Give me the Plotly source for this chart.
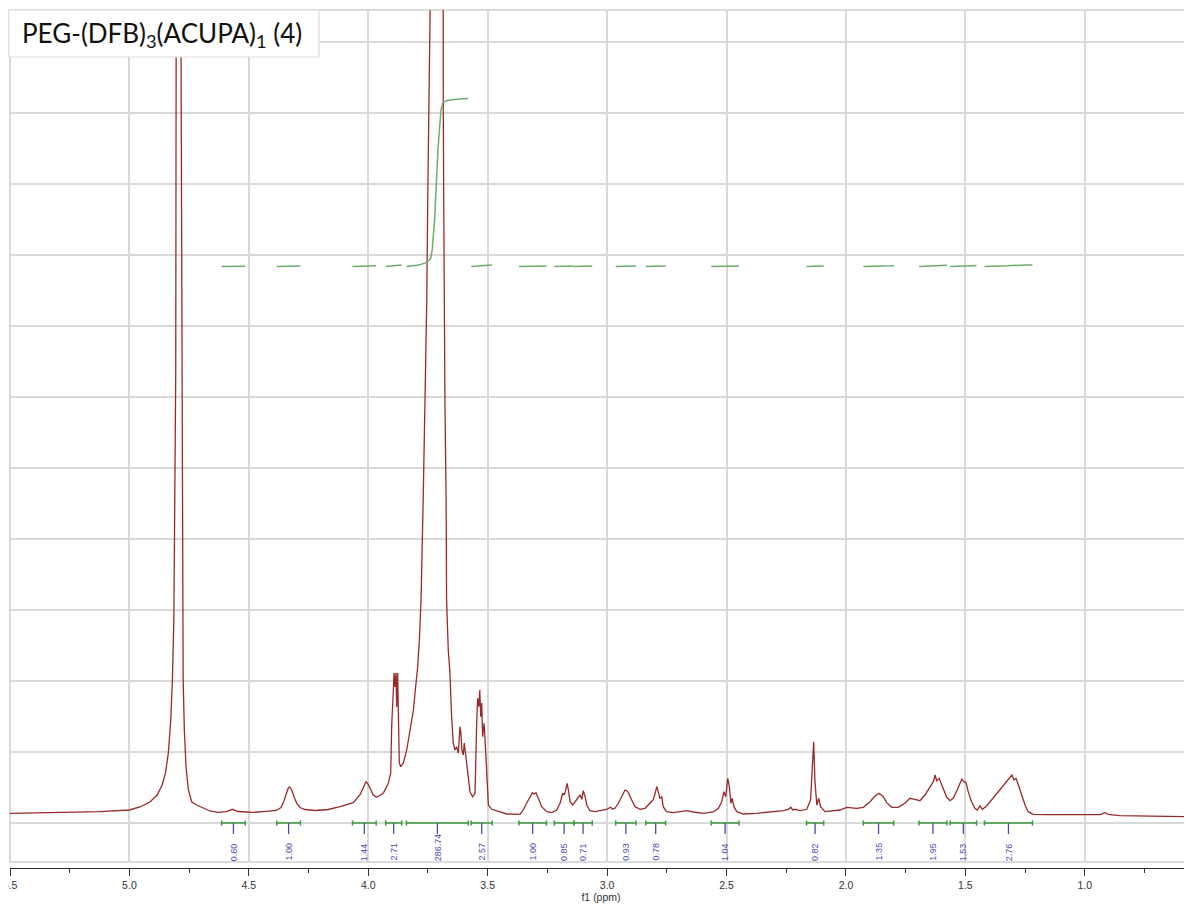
import numpy as np
import plotly.graph_objects as go

# ---------------- data ----------------
ppm = [5.500, 5.290, 5.123, 5.000, 4.956, 4.914, 4.884, 4.863, 4.849, 4.837,
       4.827, 4.820, 4.814, 4.806, 4.804, 4.802, 4.793, 4.784, 4.783, 4.780,
       4.778, 4.775, 4.770, 4.763, 4.753, 4.739, 4.718, 4.692, 4.663, 4.629,
       4.593, 4.569, 4.545, 4.509, 4.482, 4.425, 4.386, 4.365, 4.353, 4.342,
       4.334, 4.328, 4.319, 4.309, 4.298, 4.286, 4.265, 4.223, 4.168, 4.118,
       4.063, 4.035, 4.022, 4.009, 4.001, 3.993, 3.979, 3.965, 3.937, 3.916,
       3.906, 3.902, 3.899, 3.895, 3.892, 3.888, 3.884, 3.881, 3.877, 3.874,
       3.870, 3.864, 3.853, 3.839, 3.825, 3.811, 3.800, 3.793, 3.786, 3.779,
       3.770, 3.762, 3.755, 3.751, 3.746, 3.741, 3.714, 3.688, 3.686, 3.684,
       3.682, 3.679, 3.674, 3.672, 3.665, 3.658, 3.651, 3.646, 3.644, 3.637,
       3.630, 3.623, 3.616, 3.612, 3.608, 3.602, 3.598, 3.592, 3.588, 3.581,
       3.574, 3.563, 3.553, 3.546, 3.542, 3.537, 3.533, 3.529, 3.525, 3.521,
       3.515, 3.511, 3.507, 3.501, 3.497, 3.483, 3.462, 3.420, 3.365, 3.351,
       3.337, 3.323, 3.313, 3.306, 3.298, 3.288, 3.274, 3.253, 3.232, 3.211,
       3.197, 3.186, 3.180, 3.175, 3.167, 3.161, 3.155, 3.144, 3.134, 3.125,
       3.113, 3.106, 3.100, 3.092, 3.085, 3.072, 3.051, 3.030, 3.002, 2.985,
       2.977, 2.967, 2.953, 2.939, 2.925, 2.918, 2.911, 2.897, 2.883, 2.862,
       2.841, 2.828, 2.813, 2.807, 2.799, 2.792, 2.786, 2.779, 2.771, 2.765,
       2.751, 2.723, 2.695, 2.667, 2.639, 2.597, 2.555, 2.534, 2.520, 2.511,
       2.503, 2.495, 2.488, 2.482, 2.476, 2.469, 2.457, 2.430, 2.374, 2.318,
       2.262, 2.241, 2.231, 2.223, 2.213, 2.192, 2.164, 2.148, 2.141, 2.135,
       2.130, 2.122, 2.114, 2.106, 2.088, 2.053, 2.025, 1.997, 1.955, 1.927,
       1.899, 1.878, 1.862, 1.846, 1.829, 1.808, 1.781, 1.753, 1.732, 1.711,
       1.690, 1.669, 1.648, 1.634, 1.627, 1.620, 1.610, 1.602, 1.592, 1.578,
       1.564, 1.551, 1.534, 1.523, 1.515, 1.506, 1.497, 1.488, 1.474, 1.460,
       1.450, 1.439, 1.429, 1.411, 1.390, 1.369, 1.348, 1.327, 1.316, 1.305,
       1.296, 1.288, 1.278, 1.264, 1.250, 1.237, 1.216, 1.160, 1.076, 1.006,
       0.936, 0.915, 0.902, 0.853, 0.755, 0.551]

intensity = [0.7, 1.3, 2.3, 4, 7, 12, 19, 29, 41, 61,
             94, 134, 194, 441, 674, 764, 3000, 764, 674, 441,
             194, 134, 84, 47, 24, 12, 9, 6, 3, 1.7,
             2.3, 4.7, 2.5, 2, 1.7, 2.7, 3.5, 6.5, 13, 21,
             26.5, 27, 23, 16, 10, 6.5, 4.5, 3.5, 4.5, 7.3,
             11.3, 19, 26, 32.3, 30, 26, 19, 16.7, 20.7, 30.7,
             41, 87.3, 112.3, 124, 141, 127, 141, 107, 141, 104,
             51, 47.3, 51, 64, 84, 104, 131, 147, 174, 214,
             314, 414, 514, 614, 714, 804, 20000, 804, 714, 614,
             514, 414, 314, 214, 164, 141, 97.3, 81, 71, 64,
             67.3, 61, 87.3, 81, 64, 59, 71, 59, 51, 34,
             22.3, 17.3, 20.7, 90.7, 115.7, 107.3, 124, 97.3, 111, 77.3,
             90.7, 74, 51, 24, 9, 4.7, 3.3, 0, -0.3, 4,
             10.7, 17.3, 21.3, 20, 21.3, 15.7, 7.3, 2.3, 1.3, 4,
             10.7, 20.7, 19, 22.3, 30.7, 22.3, 12.3, 9, 12.3, 15.7,
             19, 14.7, 23.3, 17.3, 9, 3.3, 2.3, 3.3, 4.7, 6.7,
             4.7, 5.7, 10.7, 17.3, 24, 23.3, 21.3, 14, 7.3, 4.7,
             5.7, 9, 12.3, 14, 20.7, 27.3, 22.3, 15.7, 17, 7.3,
             2.3, 1.3, 2.3, 3.3, 2, 0.7, 2, 5.7, 12.3, 22.3,
             17.3, 35.7, 27.3, 10.7, 15.7, 7.3, 2.3, 0, 0.7, 1.7,
             3.3, 4.7, 6.7, 4, 4.7, 3.3, 4.7, 14, 44, 72.3,
             34, 9, 15.7, 7.3, 2.3, 3.3, 4, 6.7, 5.7, 6.7,
             12.3, 18, 20.7, 18, 11.3, 6.7, 6.7, 10.7, 15.7, 14.7,
             13.3, 19, 27.3, 32.3, 39, 33.3, 35.7, 30.7, 24, 16.7,
             13.3, 15.7, 24, 30.7, 34.7, 32.3, 31.3, 22.3, 12.3, 5.7,
             4, 8, 4.7, 8, 14, 20, 25.7, 32.3, 34.7, 39,
             34, 35.7, 29, 19, 9, 2.3, -0.3, -0.7, -0.7, -1,
             -0.7, 1.3, -0.3, -1.7, -2, -2.7]

# integration regions (ppm) and their integral values
int_hi = [4.614, 4.383, 4.066, 3.927, 3.840, 3.569, 3.369, 3.221, 3.139,
          2.964, 2.838, 2.564, 2.165, 1.927, 1.694, 1.564, 1.420]
int_lo = [4.515, 4.284, 3.967, 3.860, 3.581, 3.481, 3.254, 3.139, 3.062,
          2.879, 2.755, 2.448, 2.093, 1.800, 1.577, 1.453, 1.219]
int_values = ["0.60", "1.00", "1.44", "2.71", "286.74", "2.57", "1.00", "0.85", "0.71",
              "0.93", "0.78", "1.04", "0.82", "1.35", "1.95", "1.53", "2.76"]

title_text = "PEG-(DFB)<sub>3</sub>(ACUPA)<sub>1</sub> (4)"
x_title = "f1 (ppm)"

# ---------------- styling constants ----------------
SPEC_COLOR = "#982a2a"
INT_CURVE_COLOR = "#6cad6c"
INT_BAR_COLOR = "#3e9a3e"
INT_LABEL_COLOR = "#4b4bab"
GRID_COLOR = "#d9d9d9"
INT_BASE = 547.5      # level where integral curves start
INT_SCALE = 0.586     # curve rise per integral unit
BAR_LEVEL = -9
CAP = 2.6
TICK_LOW = -20
FONT = "Arial, Liberation Sans, sans-serif"

fig = go.Figure()

fig.add_trace(go.Scatter(x=ppm, y=intensity, mode="lines",
                         line=dict(color=SPEC_COLOR, width=1.3),
                         hoverinfo="skip", showlegend=False))

# integral curves: running integral of the spectrum over each region
xs_all = np.array(ppm)
ys_all = np.array(intensity)
order = np.argsort(xs_all)
xs = xs_all[order]
ys = ys_all[order]
cx, cy = [], []
for hi, lo, v in zip(int_hi, int_lo, int_values):
    grid = np.linspace(hi, lo, 400)
    py = np.interp(grid, xs, ys)
    seg = np.abs(np.diff(grid)) * (py[:-1] + py[1:]) / 2.0
    cum = np.concatenate([[0.0], np.cumsum(seg)])
    cum = cum / cum[-1]
    level = INT_BASE + float(v) * INT_SCALE * cum
    cx += list(grid) + [None]
    cy += list(level) + [None]
fig.add_trace(go.Scatter(x=cx, y=cy, mode="lines",
                         line=dict(color=INT_CURVE_COLOR, width=1.5),
                         hoverinfo="skip", showlegend=False))

# integration bars with end caps
bx, by = [], []
for hi, lo in zip(int_hi, int_lo):
    bx += [hi, lo, None, hi, hi, None, lo, lo, None]
    by += [BAR_LEVEL, BAR_LEVEL, None, BAR_LEVEL + CAP, BAR_LEVEL - CAP, None,
           BAR_LEVEL + CAP, BAR_LEVEL - CAP, None]
fig.add_trace(go.Scatter(x=bx, y=by, mode="lines",
                         line=dict(color=INT_BAR_COLOR, width=1.5),
                         hoverinfo="skip", showlegend=False))

# blue centre ticks
tx, ty = [], []
for hi, lo in zip(int_hi, int_lo):
    c = (hi + lo) / 2
    tx += [c, c, None]
    ty += [BAR_LEVEL, TICK_LOW, None]
fig.add_trace(go.Scatter(x=tx, y=ty, mode="lines",
                         line=dict(color=INT_LABEL_COLOR, width=1.3),
                         hoverinfo="skip", showlegend=False))

annotations = []
for hi, lo, v in zip(int_hi, int_lo, int_values):
    annotations.append(dict(x=(hi + lo) / 2, y=0.006, xref="x", yref="paper",
                            text=v, textangle=-90, showarrow=False,
                            xanchor="center", yanchor="bottom",
                            font=dict(family=FONT, size=9, color=INT_LABEL_COLOR)))

# title box
annotations.append(dict(x=0.0085, y=0.972, xref="paper", yref="paper",
                        text=title_text, showarrow=False,
                        xanchor="left", yanchor="middle",
                        font=dict(family="Lato, Open Sans, sans-serif",
                                  size=26, color="#111111")))

shapes = [
    dict(type="rect", xref="x domain", yref="y domain", x0=0, x1=1, y0=0, y1=1,
         line=dict(color="#cfcfcf", width=1.5), layer="below"),
    dict(type="rect", xref="paper", yref="paper", x0=-0.0012, x1=0.2614,
         y0=0.9452, y1=1.0, line=dict(color="#dddddd", width=1.2),
         fillcolor="white", layer="above"),
]

# the page body adds an 8 px offset, so the figure is 8 px smaller each way
fig.update_layout(
    width=1184, height=898,
    margin=dict(l=2, r=0, t=2, b=38, autoexpand=False),
    paper_bgcolor="white", plot_bgcolor="white",
    showlegend=False, hovermode=False,
    annotations=annotations, shapes=shapes,
    xaxis=dict(range=[5.5, 0.551], anchor="free", position=0, automargin=False,
               showgrid=True, gridcolor=GRID_COLOR, gridwidth=2,
               tick0=0, dtick=0.5, tickformat=".1f", ticklabeloverflow="allow",
               showline=True, linecolor="#333333", linewidth=1.4,
               ticks="outside", ticklen=7, tickwidth=1.2, tickcolor="#333333",
               minor=dict(dtick=0.25, tick0=0, ticks="outside", ticklen=4,
                          tickwidth=1.2, tickcolor="#333333", showgrid=False),
               tickfont=dict(family=FONT, size=10.5, color="#333333"),
               title=dict(text=x_title, standoff=2,
                          font=dict(family=FONT, size=10.5, color="#333333")),
               zeroline=False),
    yaxis=dict(range=[-48, 804], domain=[0.007, 1.0], automargin=False,
               showgrid=True, gridcolor=GRID_COLOR, gridwidth=2,
               tick0=-9, dtick=71, showticklabels=False, ticks="",
               zeroline=False, showline=False),
)

fig.write_html("out.html")
